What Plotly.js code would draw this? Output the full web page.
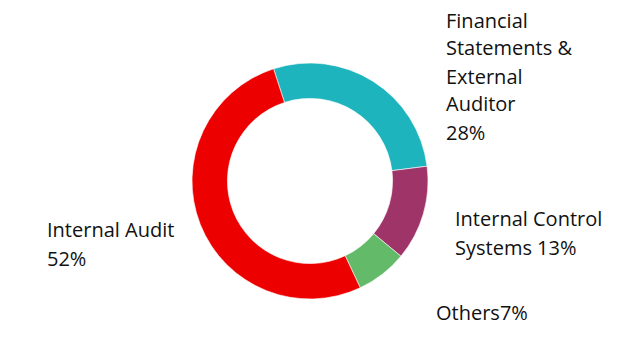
<!DOCTYPE html>
<html>
<head>
<meta charset="utf-8">
<script src="https://cdn.plot.ly/plotly-3.0.1.min.js"></script>
<style>html,body{margin:0;padding:0;background:#fff;}#chart{width:620px;height:360px;}</style>
</head>
<body>
<div id="chart"></div>
<script>
const categories = ["Financial Statements & External Auditor", "Internal Control Systems", "Others", "Internal Audit"];
const values = [28, 13, 7, 52];
const colors = ["#1DB4BE", "#9E3467", "#63BA68", "#EC0000"];
// label lines as drawn in the chart; the percentage is appended to the last line
const labelLines = [
  ["Financial", "Statements &", "External", "Auditor", ""],
  ["Internal Control", "Systems "],
  ["Others"],
  ["Internal Audit", ""]
];
// left edge (px) and first-line centre (px) of each label block
const labelLeft = [444, 453, 434, 45];
const labelTop = [20, 219, 312, 230];
const lineStep = 28;

const trace = {
  type: "pie",
  labels: categories,
  values: values,
  sort: false,
  direction: "clockwise",
  rotation: -18,
  hole: 0.7,
  textinfo: "none",
  hoverinfo: "label+percent",
  marker: {colors: colors, line: {color: "#ffffff", width: 0.6}},
  domain: {x: [0.3097, 0.6903], y: [0.1694, 0.825]},
  showlegend: false
};

const W = 620, H = 360;
const annotations = [];
categories.forEach((c, i) => {
  const lines = labelLines[i];
  lines.forEach((ln, j) => {
    const txt = (j === lines.length - 1) ? ln + values[i] + "%" : ln;
    annotations.push({
      xref: "paper", yref: "paper",
      x: labelLeft[i] / W, y: 1 - (labelTop[i] + j * lineStep) / H,
      xanchor: "left", yanchor: "middle", align: "left",
      showarrow: false,
      text: txt,
      font: {family: "Open Sans, Noto Sans, sans-serif", size: 20, color: "#111111"}
    });
  });
});

const layout = {
  width: W, height: H,
  margin: {l: 0, r: 0, t: 0, b: 0},
  paper_bgcolor: "#ffffff",
  annotations: annotations
};

Plotly.newPlot("chart", [trace], layout, {displayModeBar: false, staticPlot: true});
</script>
</body>
</html>
